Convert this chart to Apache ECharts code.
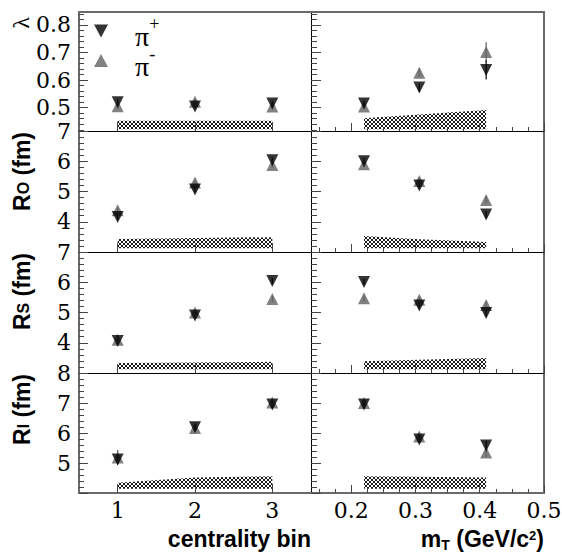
<!DOCTYPE html>
<html><head><meta charset="utf-8">
<script src="https://cdn.jsdelivr.net/npm/echarts@6/dist/echarts.min.js"></script>
<style>html,body{margin:0;padding:0;background:#fff}#c{width:562px;height:556px}</style>
</head><body><div id="c"></div>
<script>
// ---------------- data ----------------
const centralityBins = [1, 2, 3];
const mtBins = [0.22, 0.306, 0.41];

// lambda
const lambdaCentPip = [0.52, 0.504, 0.515];
const lambdaCentPim = [0.505, 0.522, 0.504];
const lambdaCentErrPip = [0.01, 0.01, 0.01];
const lambdaCentErrPim = [0.01, 0.01, 0.01];
const lambdaMtPip = [0.515, 0.573, 0.637];
const lambdaMtPim = [0.504, 0.627, 0.702];
const lambdaMtErrPip = [0.01, 0.015, 0.035];
const lambdaMtErrPim = [0.01, 0.015, 0.035];
const lambdaSysCentBase = [0.422, 0.422, 0.422];
const lambdaSysCentTop = [0.453, 0.453, 0.453];
const lambdaSysMtBase = [0.422, 0.422, 0.422];
const lambdaSysMtTop = [0.462, 0.475, 0.492];

// R_O
const roCentPip = [4.16, 5.07, 6.03];
const roCentPim = [4.38, 5.30, 5.88];
const roCentErrPip = [0.1, 0.1, 0.1];
const roCentErrPim = [0.1, 0.1, 0.1];
const roMtPip = [6.0, 5.2, 4.24];
const roMtPim = [5.9, 5.35, 4.72];
const roMtErrPip = [0.1, 0.1, 0.12];
const roMtErrPim = [0.1, 0.1, 0.12];
const roSysCentBase = [3.12, 3.12, 3.12];
const roSysCentTop = [3.43, 3.46, 3.49];
const roSysMtBase = [3.12, 3.12, 3.12];
const roSysMtTop = [3.53, 3.42, 3.33];

// R_S
const rsCentPip = [4.06, 4.9, 6.04];
const rsCentPim = [4.10, 5.0, 5.45];
const rsCentErrPip = [0.1, 0.1, 0.1];
const rsCentErrPim = [0.1, 0.1, 0.1];
const rsMtPip = [6.01, 5.23, 4.98];
const rsMtPim = [5.47, 5.42, 5.25];
const rsMtErrPip = [0.1, 0.1, 0.12];
const rsMtErrPim = [0.1, 0.1, 0.12];
const rsSysCentBase = [3.12, 3.12, 3.12];
const rsSysCentTop = [3.33, 3.35, 3.37];
const rsSysMtBase = [3.12, 3.12, 3.12];
const rsSysMtTop = [3.39, 3.44, 3.50];

// R_l
const rlCentPip = [5.12, 6.19, 6.95];
const rlCentPim = [5.18, 6.17, 7.02];
const rlCentErrPip = [0.15, 0.1, 0.1];
const rlCentErrPim = [0.25, 0.1, 0.1];
const rlMtPip = [6.95, 5.78, 5.58];
const rlMtPim = [7.0, 5.88, 5.35];
const rlMtErrPip = [0.1, 0.1, 0.15];
const rlMtErrPim = [0.1, 0.1, 0.15];
const rlSysCentBase = [4.14, 4.14, 4.14];
const rlSysCentTop = [4.34, 4.52, 4.56];
const rlSysMtBase = [4.14, 4.14, 4.14];
const rlSysMtTop = [4.56, 4.54, 4.52];

// tick labels
const centTicks = [1, 2, 3];
const mtTicks = [0.2, 0.3, 0.4, 0.5];
const mtMinorTicks = [0.15, 0.175, 0.225, 0.25, 0.275, 0.325, 0.35, 0.375, 0.425, 0.45, 0.475];
const lambdaTicks = [0.5, 0.6, 0.7, 0.8];
const lambdaMinorTicks = [0.42, 0.44, 0.46, 0.48, 0.52, 0.54, 0.56, 0.58, 0.62, 0.64, 0.66, 0.68, 0.72, 0.74, 0.76, 0.78, 0.82, 0.84];
const rTicks3to7 = [3, 4, 5, 6, 7];
const rTicks4to8 = [4, 5, 6, 7, 8];
const rMinorTicks3to7 = [3.2, 3.4, 3.6, 3.8, 4.2, 4.4, 4.6, 4.8, 5.2, 5.4, 5.6, 5.8, 6.2, 6.4, 6.6, 6.8];
const rMinorTicks4to8 = [4.2, 4.4, 4.6, 4.8, 5.2, 5.4, 5.6, 5.8, 6.2, 6.4, 6.6, 6.8, 7.2, 7.4, 7.6, 7.8];

// ---------------- layout / style ----------------
const L = 79, M = 311, R = 544;
const rowEdges = [12, 131, 252, 373, 493];
const GRAY = '#6a6a6a', INK = '#000', TICK = '#444';
const PIP_COLOR = '#000', PIM_COLOR = '#616161';

const rows = [
  { yMin: 0.4155, yMax: 0.847, ticks: lambdaTicks, labels: lambdaTicks, minor: lambdaMinorTicks, title: '{g|λ}', gap: -5, pad: 44,
    cent: [lambdaCentPip, lambdaCentPim, lambdaCentErrPip, lambdaCentErrPim, lambdaSysCentBase, lambdaSysCentTop],
    mt: [lambdaMtPip, lambdaMtPim, lambdaMtErrPip, lambdaMtErrPim, lambdaSysMtBase, lambdaSysMtTop] },
  { yMin: 3, yMax: 7, ticks: rTicks3to7, labels: rTicks3to7.slice(1), minor: rMinorTicks3to7, title: '{m|R}{sb|O}{m| (fm)}', gap: -1, pad: 43,
    cent: [roCentPip, roCentPim, roCentErrPip, roCentErrPim, roSysCentBase, roSysCentTop],
    mt: [roMtPip, roMtPim, roMtErrPip, roMtErrPim, roSysMtBase, roSysMtTop] },
  { yMin: 3, yMax: 7, ticks: rTicks3to7, labels: rTicks3to7.slice(1), minor: rMinorTicks3to7, title: '{m|R}{sb|S}{m| (fm)}', gap: -1, pad: 43,
    cent: [rsCentPip, rsCentPim, rsCentErrPip, rsCentErrPim, rsSysCentBase, rsSysCentTop],
    mt: [rsMtPip, rsMtPim, rsMtErrPip, rsMtErrPim, rsSysMtBase, rsSysMtTop] },
  { yMin: 4, yMax: 8, ticks: rTicks4to8, labels: rTicks4to8.slice(1), minor: rMinorTicks4to8, title: '{m|R}{sb|l}{m| (fm)}', gap: -1, pad: 43,
    cent: [rlCentPip, rlCentPim, rlCentErrPip, rlCentErrPim, rlSysCentBase, rlSysCentTop],
    mt: [rlMtPip, rlMtPim, rlMtErrPip, rlMtErrPim, rlSysMtBase, rlSysMtTop] }
];

// hatch pattern
const pc = document.createElement('canvas');
pc.width = 4; pc.height = 4;
const pctx = pc.getContext('2d');
pctx.fillStyle = '#fff'; pctx.fillRect(0, 0, 4, 4);
pctx.strokeStyle = '#000'; pctx.lineWidth = 0.9;
pctx.beginPath();
pctx.moveTo(0, 0); pctx.lineTo(4, 4);
pctx.moveTo(4, 0); pctx.lineTo(0, 4);
pctx.stroke();
const hatch = { image: pc.toDataURL(), repeat: 'repeat', imageWidth: 4, imageHeight: 4 };

const sansBold = { fontFamily: 'Liberation Sans', fontWeight: 'bold', color: '#000' };
const titleRichY = {
  m: Object.assign({ fontSize: 23, lineHeight: 28 }, sansBold),
  sb: Object.assign({ fontSize: 16, lineHeight: 16, padding: [2, 0, 0, 0] }, sansBold),
  g: { fontFamily: 'Liberation Serif', fontSize: 24, lineHeight: 28, color: '#000' }
};
const titleRichX = {
  m: Object.assign({ fontSize: 23, lineHeight: 26 }, sansBold),
  sb: Object.assign({ fontSize: 14, lineHeight: 14, padding: [12, 0, 0, 0] }, sansBold),
  sp: Object.assign({ fontSize: 13, lineHeight: 13, padding: [0, 0, 8, 0] }, sansBold)
};

function tickAxis(g, pos, min, max, values, len) {
  return {
    gridIndex: g, type: 'value', position: pos, min: min, max: max, z: 10,
    axisLine: { show: false, onZero: false }, axisLabel: { show: false }, splitLine: { show: false },
    axisTick: { show: true, inside: true, length: len, customValues: values, lineStyle: { color: TICK, width: 1 } }
  };
}

const grids = [], xAxes = [], yAxes = [], series = [];

rows.forEach((row, r) => {
  [0, 1].forEach(c => {
    const g = grids.length;
    const isBottom = r === 3;
    const xMin = c ? 0.1375 : 0.5, xMax = c ? 0.5 : 3.5;
    grids.push({ left: c ? M : L, top: rowEdges[r], width: c ? R - M : M - L,
      height: rowEdges[r + 1] - rowEdges[r], containLabel: false, outerBoundsMode: 'none' });

    // x axes
    const xi = xAxes.length;
    xAxes.push({
      gridIndex: g, type: 'value', position: 'bottom', min: xMin, max: xMax, z: 10,
      axisLine: { show: true, onZero: false, lineStyle: { color: isBottom ? GRAY : INK, width: isBottom ? 2 : 1 } },
      axisTick: { show: true, inside: true, length: c ? 8 : 9, customValues: c ? mtTicks : centTicks, lineStyle: { color: TICK, width: 1 } },
      axisLabel: { show: isBottom, customValues: c ? mtTicks : centTicks, margin: 6, color: '#000',
        fontFamily: 'DejaVu Serif', fontSize: 22 },
      splitLine: { show: false },
      name: isBottom ? (c ? '{m|m}{sb|T}{m| (GeV/c}{sp|2}{m|)}' : '{m|centrality bin}') : '',
      nameLocation: 'end', nameGap: 0, nameMoveOverlap: false,
      nameTextStyle: { align: 'right', verticalAlign: 'top', padding: [33, 0, 0, 0], rich: titleRichX }
    });
    if (c) xAxes.push(tickAxis(g, 'bottom', xMin, xMax, mtMinorTicks, 4));
    if (r === 0) xAxes.push({
      gridIndex: g, type: 'value', position: 'top', min: xMin, max: xMax, z: 10,
      axisLine: { show: true, onZero: false, lineStyle: { color: GRAY, width: 2 } },
      axisTick: { show: false }, axisLabel: { show: false }, splitLine: { show: false }
    });

    // y axes
    const yi = yAxes.length;
    yAxes.push({
      gridIndex: g, type: 'value', position: 'left', min: row.yMin, max: row.yMax, z: 10,
      axisLine: { show: true, onZero: false, lineStyle: { color: c ? INK : GRAY, width: c ? 1 : 2 } },
      axisTick: { show: true, inside: true, length: c ? 10 : 9, customValues: row.ticks, lineStyle: { color: TICK, width: 1 } },
      axisLabel: { show: !c, customValues: row.labels, margin: 8, color: '#000', fontFamily: 'DejaVu Serif', fontSize: 22 },
      splitLine: { show: false },
      name: c ? '' : row.title, nameLocation: 'end', nameGap: row.gap, nameRotate: 90, nameMoveOverlap: false,
      nameTextStyle: { align: 'right', verticalAlign: 'bottom', padding: [0, 0, row.pad, 0], rich: titleRichY }
    });
    yAxes.push(tickAxis(g, 'left', row.yMin, row.yMax, row.minor, c ? 6 : 5));
    if (c) yAxes.push({
      gridIndex: g, type: 'value', position: 'right', min: row.yMin, max: row.yMax, z: 10,
      axisLine: { show: true, onZero: false, lineStyle: { color: GRAY, width: 2 } },
      axisTick: { show: false }, axisLabel: { show: false }, splitLine: { show: false }
    });

    // series
    const xs = c ? mtBins : centralityBins;
    const [pip, pim, ePip, ePim, sysBase, sysTop] = c ? row.mt : row.cent;
    series.push({
      type: 'custom', xAxisIndex: xi, yAxisIndex: yi, silent: true, z: 1, animation: false,
      data: xs.slice(0, -1).map((x, i) => [x, sysBase[i], sysTop[i], xs[i + 1], sysBase[i + 1], sysTop[i + 1]]),
      encode: { x: [0, 3], y: [1, 2, 4, 5] },
      renderItem: (params, api) => {
        const a = api.coord([api.value(0), api.value(1)]);
        const b = api.coord([api.value(0), api.value(2)]);
        const cc = api.coord([api.value(3), api.value(5)]);
        const d = api.coord([api.value(3), api.value(4)]);
        return { type: 'polygon', shape: { points: [a, b, cc, d] },
          style: { fill: hatch, stroke: null } };
      }
    });
    [[pim, ePim, PIM_COLOR], [pip, ePip, PIP_COLOR]].forEach(([vals, errs, col]) => {
      series.push({
        type: 'custom', xAxisIndex: xi, yAxisIndex: yi, silent: true, z: 3, animation: false,
        data: xs.map((x, i) => [x, vals[i], errs[i]]),
        encode: { x: 0, y: 1 },
        renderItem: (params, api) => {
          const x = api.value(0), y = api.value(1), e = api.value(2);
          const p1 = api.coord([x, y - e]), p2 = api.coord([x, y + e]);
          return { type: 'line', shape: { x1: p1[0], y1: p1[1], x2: p2[0], y2: p2[1] },
            style: { stroke: col, lineWidth: 1.2 } };
        }
      });
    });
    series.push({
      name: 'π-', type: 'scatter', xAxisIndex: xi, yAxisIndex: yi, symbol: 'triangle', symbolSize: 12,
      itemStyle: { color: PIM_COLOR }, z: 4, animation: false, silent: true,
      data: xs.map((x, i) => [x, pim[i]])
    });
    series.push({
      name: 'π+', type: 'scatter', xAxisIndex: xi, yAxisIndex: yi, symbol: 'triangle', symbolRotate: 180, symbolSize: 12,
      itemStyle: { color: PIP_COLOR }, z: 5, animation: false, silent: true,
      data: xs.map((x, i) => [x, pip[i]])
    });
  });
});

const chart = echarts.init(document.getElementById('c'), null, { renderer: 'svg', width: 562, height: 556 });
chart.setOption({
  animation: false,
  backgroundColor: '#fff',
  grid: grids, xAxis: xAxes, yAxis: yAxes, series: series,
  legend: {
    data: [{ name: 'π+', icon: 'path://M0,0L14,0L7,13Z' }, { name: 'π-', icon: 'path://M7,0L14,13L0,13Z' }],
    orient: 'vertical', left: 94, top: 11.5, padding: 0, itemWidth: 14, itemHeight: 13, itemGap: -9.5,
    selectedMode: false,
    formatter: n => n === 'π+' ? '{p|π}{s|+}' : '{p|π}{s|-}',
    textStyle: { padding: [0, 0, 0, 22], rich: {
      p: { fontFamily: 'Liberation Serif', fontSize: 28, lineHeight: 26, padding: [11, 0, 0, 0], color: '#000' },
      s: { fontFamily: 'Liberation Serif', fontSize: 18, lineHeight: 16, padding: [0, 0, 14, 0], color: '#000' }
    } }
  }
});
</script></body></html>
